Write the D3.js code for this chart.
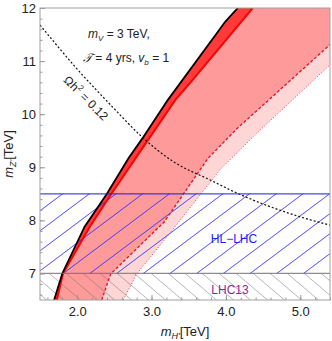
<!DOCTYPE html>
<html lang="en">
<head>
<meta charset="UTF-8">
<title>mZ' vs mH'</title>
<script src="https://cdn.jsdelivr.net/npm/d3@7"></script>
<style>
	body { margin: 0; background: #fff; }
	svg text { font-family: "Liberation Sans", Arial, sans-serif; fill: #222; }
</style>
</head>
<body>
<div id="chart"></div>
<script>

	// outer black boundary (mH', mZ') in TeV
	const blackX = [1.69, 1.80, 2.10, 2.40, 2.69, 2.87, 3.22, 3.88, 3.99, 4.16]
	const blackY = [6.5, 7.0, 7.88, 8.5, 9.17, 9.53, 10.27, 11.53, 11.74, 12.0]
	// solid red line
	const redX = [1.725, 1.81, 2.17, 2.46, 2.96, 3.32, 3.55, 4.36]
	const redY = [6.5, 7.0, 7.88, 8.5, 9.53, 10.27, 10.64, 12.0]
	// dashed red line
	const dashX = [2.33, 2.45, 3.17, 3.76, 4.15, 5.4]
	const dashY = [6.5, 6.99, 7.97, 9.17, 9.73, 11.31]
	// dotted red line
	const dotX = [2.62, 2.80, 3.27, 3.93, 4.46, 5.4]
	const dotY = [6.5, 6.99, 7.8, 8.97, 9.70, 10.93]
	// relic density line
	const omegaX = [1.5, 2.0, 2.5, 2.85, 3.3, 3.79, 4.14, 4.99, 5.4]
	const omegaY = [11.68, 10.85, 10.1, 9.6, 9.1, 8.76, 8.52, 8.07, 7.91]

	const hlLhc = 8.5
	const lhc13 = 7.0
	const xTicks = [2.0, 3.0, 4.0, 5.0]
	const yTicks = [7, 8, 9, 10, 11, 12]

	const width = 332, height = 341
	const x = d3.scaleLinear().domain([1.5, 5.4]).range([40, 330])
	const y = d3.scaleLinear().domain([6.5, 12]).range([300, 8])

	const svg = d3.select('#chart').append('svg').attr('width', width).attr('height', height)

	svg.append('clipPath').attr('id', 'plot-clip')
		.append('rect')
		.attr('x', x(1.5)).attr('y', y(12))
		.attr('width', x(5.4) - x(1.5)).attr('height', y(6.5) - y(12))

	const pts = (xs, ys) => xs.map((v, i) => [v, ys[i]])
	const line = d3.line().x(d => x(d[0])).y(d => y(d[1]))

	const black = pts(blackX, blackY)
	const red = pts(redX, redY)
	const dash = pts(dashX, dashY)
	const dot = pts(dotX, dotY)

	const plot = svg.append('g').attr('clip-path', 'url(#plot-clip)')

	// filled bands
	plot.append('path')
		.attr('d', line(dash.concat(dot.slice().reverse())) + 'Z')
		.attr('fill', '#ffd6d6')
	plot.append('path')
		.attr('d', line(red.concat([[5.4, 12]], dash.slice().reverse())) + 'Z')
		.attr('fill', '#ff9a9a')
	plot.append('path')
		.attr('d', line(black.concat(red.slice().reverse())) + 'Z')
		.attr('fill', '#ff3a3a')

	// hatching: HL-LHC (blue, up-right) between lhc13 and hlLhc
	const hatch = plot.append('g')
	const blueClip = svg.append('clipPath').attr('id', 'blue-clip')
	blueClip.append('rect')
		.attr('x', x(1.5)).attr('y', y(hlLhc))
		.attr('width', x(5.4) - x(1.5)).attr('height', y(lhc13) - y(hlLhc))
	const grayClip = svg.append('clipPath').attr('id', 'gray-clip')
	grayClip.append('rect')
		.attr('x', x(1.5)).attr('y', y(lhc13))
		.attr('width', x(5.4) - x(1.5)).attr('height', y(6.5) - y(lhc13))

	const blueSlope = 0.75, blueStep = 26.7, blueX0 = 89.3
	const blueLines = d3.range(-12, 14).map(k => blueX0 + k * blueStep)
	hatch.append('g').attr('clip-path', 'url(#blue-clip)')
		.selectAll('line').data(blueLines).join('line')
		.attr('x1', d => d).attr('y1', y(hlLhc))
		.attr('x2', d => d + 120).attr('y2', y(hlLhc) - 120 * blueSlope)
		.clone(true)
	hatch.select('g').selectAll('line')
		.attr('x1', d => d - 150).attr('y1', y(hlLhc) + 150 * blueSlope)
		.attr('x2', d => d + 20).attr('y2', y(hlLhc) - 20 * blueSlope)
		.attr('stroke', '#2a2aff').attr('stroke-opacity', 0.5).attr('stroke-width', 1)

	const graySlope = 0.85, grayStep = 17, grayX0 = 253.3
	const grayLines = d3.range(-14, 6).map(k => grayX0 + k * grayStep)
	hatch.append('g').attr('clip-path', 'url(#gray-clip)')
		.selectAll('line').data(grayLines).join('line')
		.attr('x1', d => d - 10).attr('y1', y(lhc13) - 10 * graySlope)
		.attr('x2', d => d + 50).attr('y2', y(lhc13) + 50 * graySlope)
		.attr('stroke', '#707070').attr('stroke-opacity', 0.5).attr('stroke-width', 1)

	// boundary lines
	plot.append('path').attr('d', line(dot))
		.attr('fill', 'none').attr('stroke', '#ff3040').attr('stroke-width', 1)
		.attr('stroke-dasharray', '1,2')
	plot.append('path').attr('d', line(dash))
		.attr('fill', 'none').attr('stroke', '#e0102a').attr('stroke-width', 1.3)
		.attr('stroke-dasharray', '3,2')
	plot.append('path').attr('d', line(red))
		.attr('fill', 'none').attr('stroke', '#ff0000').attr('stroke-width', 2)
	plot.append('path').attr('d', line(black))
		.attr('fill', 'none').attr('stroke', '#000').attr('stroke-width', 1.8)

	// relic density contour
	plot.append('path')
		.attr('d', d3.line().x(d => x(d[0])).y(d => y(d[1])).curve(d3.curveMonotoneX)(pts(omegaX, omegaY)))
		.attr('fill', 'none').attr('stroke', '#111').attr('stroke-width', 1.2)
		.attr('stroke-dasharray', '2,2')

	// collider bounds
	plot.append('line')
		.attr('x1', x(1.5)).attr('x2', x(5.4)).attr('y1', y(hlLhc)).attr('y2', y(hlLhc))
		.attr('stroke', '#1a1ae0').attr('stroke-opacity', 0.8).attr('stroke-width', 1.3)
	plot.append('line')
		.attr('x1', x(1.5)).attr('x2', x(5.4)).attr('y1', y(lhc13)).attr('y2', y(lhc13))
		.attr('stroke', '#707070').attr('stroke-opacity', 0.8).attr('stroke-width', 1.3)

	// axes
	const axisStyle = g => {
		g.select('.domain').remove()
		g.selectAll('line').attr('stroke', '#999')
		g.selectAll('text').style('font-size', '13px').attr('fill', '#222')
	}
	svg.append('g').attr('transform', `translate(0,${y(6.5)})`)
		.call(d3.axisBottom(x).tickValues(d3.range(1.6, 5.41, 0.2)).tickFormat('').tickSizeInner(-2.5).tickSizeOuter(0))
		.call(axisStyle)
	svg.append('g').attr('transform', `translate(0,${y(6.5)})`)
		.call(d3.axisBottom(x).tickValues(xTicks).tickFormat(d3.format('.1f')).tickSizeInner(-5).tickSizeOuter(0).tickPadding(7))
		.call(axisStyle)
	svg.append('g').attr('transform', `translate(${x(1.5)},0)`)
		.call(d3.axisLeft(y).tickValues(d3.range(6.6, 12.01, 0.2)).tickFormat('').tickSizeInner(-2.5).tickSizeOuter(0))
		.call(axisStyle)
	svg.append('g').attr('transform', `translate(${x(1.5)},0)`)
		.call(d3.axisLeft(y).tickValues(yTicks).tickFormat(d3.format('d')).tickSizeInner(-5).tickSizeOuter(0).tickPadding(4))
		.call(axisStyle)

	svg.append('rect')
		.attr('x', x(1.5)).attr('y', y(12))
		.attr('width', x(5.4) - x(1.5)).attr('height', y(6.5) - y(12))
		.attr('fill', 'none').attr('stroke', '#a0a0a0').attr('stroke-width', 1)

	// axis titles
	const xt = svg.append('text').attr('x', 185).attr('y', 336).attr('text-anchor', 'middle').style('font-size', '13px')
	xt.append('tspan').attr('font-style', 'italic').text('m')
	xt.append('tspan').attr('font-style', 'italic').attr('dy', 3).style('font-size', '9px').text("H'")
	xt.append('tspan').attr('dy', -3).text('[TeV]')

	const yt = svg.append('text').attr('transform', 'translate(13,154) rotate(-90)').attr('text-anchor', 'middle').style('font-size', '13px')
	yt.append('tspan').attr('font-style', 'italic').text('m')
	yt.append('tspan').attr('font-style', 'italic').attr('dy', 3).style('font-size', '9px').text("Z'")
	yt.append('tspan').attr('dy', -3).text('[TeV]')

	// annotations
	const t1 = svg.append('text').attr('x', 88).attr('y', 38).style('font-size', '12px')
	t1.append('tspan').attr('font-style', 'italic').text('m')
	t1.append('tspan').attr('font-style', 'italic').attr('dy', 3).style('font-size', '8px').text('V')
	t1.append('tspan').attr('dy', -3).text(' = 3 TeV,')

	const t2 = svg.append('text').attr('x', 83).attr('y', 62).style('font-size', '12px')
	t2.append('tspan').attr('font-style', 'italic').style('font-family', '"DejaVu Serif", serif').text('𝒯')
	t2.append('tspan').text(' = 4 yrs, ')
	t2.append('tspan').attr('font-style', 'italic').text('v')
	t2.append('tspan').attr('font-style', 'italic').attr('dy', 3).style('font-size', '8px').text('b')
	t2.append('tspan').attr('dy', -3).text(' = 1')

	const om = svg.append('text').attr('transform', 'translate(83,101) rotate(45)').attr('text-anchor', 'middle').style('font-size', '12px')
	om.append('tspan').text('Ωh')
	om.append('tspan').attr('dy', -5).style('font-size', '8px').text('2')
	om.append('tspan').attr('dy', 5).text(' = 0.12')

	svg.append('text').attr('x', 234).attr('y', 243).attr('text-anchor', 'middle')
		.style('font-size', '12px').style('fill', '#2222ee').text('HL\u2212LHC')
	svg.append('text').attr('x', 230).attr('y', 294).attr('text-anchor', 'middle')
		.style('font-size', '12px').style('fill', '#8a2a9a').text('LHC13')

</script>
</body>
</html>
